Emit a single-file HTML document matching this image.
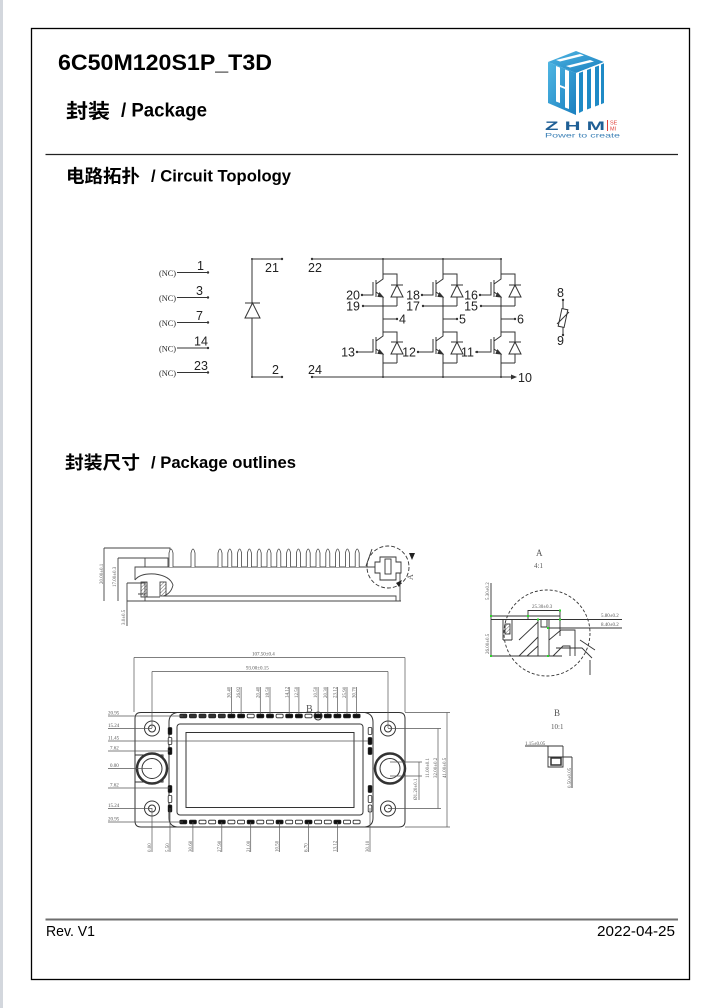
<!DOCTYPE html>
<html><head><meta charset="utf-8">
<style>
html,body{margin:0;padding:0;background:#fff;}
svg{display:block;}
</style></head><body>
<svg width="716" height="1008" viewBox="0 0 716 1008" xmlns="http://www.w3.org/2000/svg">
<defs>
<linearGradient id="bl" x1="0" y1="0" x2="1" y2="1">
<stop offset="0" stop-color="#4fb6e3"/><stop offset="1" stop-color="#1a7fbf"/>
</linearGradient>
<pattern id="hatch" width="2.5" height="2.5" patternUnits="userSpaceOnUse" patternTransform="rotate(45)">
<line x1="0" y1="0" x2="0" y2="2.5" stroke="#444" stroke-width="0.8"/>
</pattern>
</defs>
<rect x="0" y="0" width="716" height="1008" fill="#fff"/>
<rect x="0" y="0" width="3" height="1008" fill="#d3d7dd"/>
<rect x="31.5" y="28.5" width="658" height="951" fill="none" stroke="#000" stroke-width="1.3"/>

<!-- headings -->
<g fill="#000" font-weight="bold">
<text x="58" y="70" font-family="'Liberation Sans', sans-serif" font-size="22" textLength="214" lengthAdjust="spacingAndGlyphs">6C50M120S1P_T3D</text>
<text x="66" y="118" font-family="'Noto Sans CJK SC', sans-serif" font-size="20" textLength="44" lengthAdjust="spacingAndGlyphs">封装</text>
<text x="121" y="116.5" font-family="'Liberation Sans', sans-serif" font-size="19" textLength="86" lengthAdjust="spacingAndGlyphs">/ Package</text>
<text x="66" y="182.5" font-family="'Noto Sans CJK SC', sans-serif" font-size="18" textLength="74" lengthAdjust="spacingAndGlyphs">电路拓扑</text>
<text x="151" y="181.5" font-family="'Liberation Sans', sans-serif" font-size="17" textLength="140" lengthAdjust="spacingAndGlyphs">/ Circuit Topology</text>
<text x="65" y="469" font-family="'Noto Sans CJK SC', sans-serif" font-size="18" textLength="75" lengthAdjust="spacingAndGlyphs">封装尺寸</text>
<text x="151" y="468" font-family="'Liberation Sans', sans-serif" font-size="17" textLength="145" lengthAdjust="spacingAndGlyphs">/ Package outlines</text>
</g>
<line x1="45.5" y1="154.5" x2="678" y2="154.5" stroke="#222" stroke-width="1.3"/>

<!-- logo -->
<g>
<polygon points="548,62 576,51 604,62 576,73" fill="url(#bl)"/>
<polygon points="548,62 576,73 576,115 548,103" fill="url(#bl)"/>
<polygon points="576,73 604,62 604,103 576,115" fill="#fff"/>
<path d="M579 73 L583 71.5 V111 L579 113Z M587 70 L591 68.5 V108 L587 109.5Z M595 67 L599 65.5 V105 L595 106.5Z M601 64.5 L604 63.3 V103 L601 104.2Z" fill="#1f8ac6"/>
<path d="M556 66 L560 67.6 V103 L556 101.5Z M565 69.5 L569 71 V109 L565 107.5Z" fill="#fff"/>
<path d="M560 85 L565 87 V89 L560 87Z" fill="#fff"/>
<path d="M556 60 L580 54 L584 55.5 L560 61.5Z M566 66 L590 60 L594 61.5 L570 67.5Z" fill="#fff"/>
<text x="545" y="130" font-family="'Liberation Sans', sans-serif" font-weight="bold" font-size="12" fill="#1f5f95" textLength="60" lengthAdjust="spacingAndGlyphs">Z H M</text>
<line x1="607.5" y1="120" x2="607.5" y2="131" stroke="#e0403a" stroke-width="1"/>
<text x="610" y="124.5" font-family="'Liberation Sans', sans-serif" font-size="5.5" fill="#e0403a">SE</text>
<text x="610" y="130.5" font-family="'Liberation Sans', sans-serif" font-size="5.5" fill="#e0403a">MI</text>
<text x="545" y="137.5" font-family="'Liberation Sans', sans-serif" font-size="6" fill="#3a7fb5" textLength="75" lengthAdjust="spacingAndGlyphs">Power to create</text>
</g>

<!-- circuit topology -->
<g stroke="#333" stroke-width="1" fill="none">
<path d="M177 272.5H208 M177 297.5H208 M177 322.5H208 M177 348H208 M177 372.5H208"/>
<path d="M252 259V377 M252 259H282 M252 377H282"/>
<path d="M245 303H260"/>
<path d="M252.5 303L245 318H260Z" fill="#fff"/>
<path d="M312 259H501 M312 377H516"/>
<!-- NTC -->
<path d="M563 300V309 M563 327V335"/>
<rect x="560" y="309" width="6" height="18" transform="rotate(12 563 318)"/>
<path d="M557 324 L569 312"/>
</g>
<g id="leg" stroke="#333" stroke-width="1" fill="none">
<path d="M383 259V279 L376 284 M376 280V297 M376 292L383 297V319 M383 274H397V285 M397 297V306 M363 306H397 M373 282V295H362 M383 319H397"/>
<path d="M391 285H403"/>
<path d="M397 285L391 297H403Z"/>
<path d="M383 319V336 L376 341 M376 337V354 M376 349L383 354V377 M383 332H397V342 M397 354V363 M383 363H397 M373 339V352H357"/>
<path d="M391 342H403"/>
<path d="M397 342L391 354H403Z"/>
<path d="M379.5 293 L383 297 L378 296.5Z M379.5 350 L383 354 L378 353.5Z" fill="#333"/>
</g>
<use href="#leg" x="60"/>
<use href="#leg" x="118"/>
<g fill="#333">
<circle cx="208" cy="272.5" r="1.2"/><circle cx="208" cy="297.5" r="1.2"/><circle cx="208" cy="322.5" r="1.2"/><circle cx="208" cy="348" r="1.2"/><circle cx="208" cy="372.5" r="1.2"/>
<circle cx="282" cy="259" r="1.2"/><circle cx="282" cy="377" r="1.2"/><circle cx="252" cy="259" r="1"/><circle cx="252" cy="377" r="1"/>
<circle cx="312" cy="259" r="1.2"/><circle cx="312" cy="377" r="1.2"/><path d="M511 374.5 L517 377 L511 379.5Z"/>
<circle cx="383" cy="259" r="1"/><circle cx="443" cy="259" r="1"/><circle cx="501" cy="259" r="1"/>
<circle cx="383" cy="377" r="1"/><circle cx="443" cy="377" r="1"/><circle cx="501" cy="377" r="1"/>
<circle cx="362" cy="295" r="1.2"/><circle cx="363" cy="306" r="1.2"/><circle cx="357" cy="352" r="1.2"/><circle cx="397" cy="319" r="1.2"/>
<circle cx="422" cy="295" r="1.2"/><circle cx="423" cy="306" r="1.2"/><circle cx="418" cy="352" r="1.2"/><circle cx="457" cy="319" r="1.2"/>
<circle cx="480" cy="295" r="1.2"/><circle cx="481" cy="306" r="1.2"/><circle cx="477" cy="352" r="1.2"/><circle cx="515" cy="319" r="1.2"/>
<circle cx="563" cy="300" r="1.2"/><circle cx="563" cy="335" r="1.2"/>
</g>
<g font-family="'Liberation Sans', sans-serif" font-size="12.5" fill="#222">
<text x="159" y="276" font-family="'Liberation Serif', serif" font-size="8" textLength="17" lengthAdjust="spacingAndGlyphs">(NC)</text>
<text x="159" y="301" font-family="'Liberation Serif', serif" font-size="8" textLength="17" lengthAdjust="spacingAndGlyphs">(NC)</text>
<text x="159" y="326" font-family="'Liberation Serif', serif" font-size="8" textLength="17" lengthAdjust="spacingAndGlyphs">(NC)</text>
<text x="159" y="351.5" font-family="'Liberation Serif', serif" font-size="8" textLength="17" lengthAdjust="spacingAndGlyphs">(NC)</text>
<text x="159" y="376" font-family="'Liberation Serif', serif" font-size="8" textLength="17" lengthAdjust="spacingAndGlyphs">(NC)</text>
<text x="197" y="270">1</text>
<text x="196" y="295">3</text>
<text x="196" y="320">7</text>
<text x="194" y="345.5">14</text>
<text x="194" y="370">23</text>
<text x="265" y="272">21</text>
<text x="272" y="374">2</text>
<text x="308" y="272">22</text>
<text x="308" y="374">24</text>
<text x="518" y="382">10</text>
<g text-anchor="end">
<text x="360" y="299.5">20</text><text x="360" y="310.5">19</text><text x="355" y="356.5">13</text>
<text x="420" y="299.5">18</text><text x="420" y="310.5">17</text><text x="416" y="356.5">12</text>
<text x="478" y="299.5">16</text><text x="478" y="310.5">15</text><text x="474" y="356.5">11</text>
</g>
<text x="399" y="323.5">4</text>
<text x="459" y="323.5">5</text>
<text x="517" y="323.5">6</text>
<text x="557" y="297">8</text>
<text x="557" y="345">9</text>
</g>

<!-- side view -->
<g stroke="#444" stroke-width="0.9" fill="none">
<path d="M104 548H170V567 M104 548V601 M118 558H145V567 M118 558V601 M145 558H168V567"/>
<path d="M135 580V567H400V601 M163 596H396V601 M127 601H401 M127 583V601 M127 583H145V601 M138 594H145"/>
<path d="M135 580 Q140 573 155 574 Q170 576 173 585 Q171 594 163 596"/>
<rect x="141" y="582" width="6" height="15" fill="url(#hatch)"/>
<rect x="160" y="582" width="6" height="14" fill="url(#hatch)"/>
<path d="M147 582V597H160"/>
<path d="M127 601V626"/>
</g>
<g stroke="#444" stroke-width="0.8" fill="#fff">
<path d="M169 567V553Q171 545 173 553V567"/>
<path d="M191 567V553Q193 545 195 553V567"/>
<path d="M218 567V553Q220 545 222 553V567"/>
<path d="M227.8 567V553Q229.8 545 231.8 553V567"/>
<path d="M237.6 567V553Q239.6 545 241.6 553V567"/>
<path d="M247.4 567V553Q249.4 545 251.4 553V567"/>
<path d="M257.2 567V553Q259.2 545 261.2 553V567"/>
<path d="M267 567V553Q269 545 271 553V567"/>
<path d="M276.8 567V553Q278.8 545 280.8 553V567"/>
<path d="M286.6 567V553Q288.6 545 290.6 553V567"/>
<path d="M296.4 567V553Q298.4 545 300.4 553V567"/>
<path d="M306.2 567V553Q308.2 545 310.2 553V567"/>
<path d="M316 567V553Q318 545 320 553V567"/>
<path d="M325.8 567V553Q327.8 545 329.8 553V567"/>
<path d="M335.6 567V553Q337.6 545 339.6 553V567"/>
<path d="M345.4 567V553Q347.4 545 349.4 553V567"/>
<path d="M355.2 567V553Q357.2 545 359.2 553V567"/>
</g>
<g stroke="#333" stroke-width="0.9" fill="none">
<path d="M366 566 L372 549"/>
<circle cx="388" cy="567" r="21" stroke-dasharray="4 2"/>
<path d="M375 567V562H380V557H396V562H401V573H396V580H380V573H375Z" fill="#fff"/>
<rect x="385" y="559" width="6" height="15"/>
</g>
<path d="M409 553 L415 553 L412 560Z M396 583 L402 580 L399 587Z" fill="#222"/>
<g font-family="'Liberation Serif', serif" font-size="5" fill="#555">
<text transform="translate(103,584) rotate(-90)">20.00±0.1</text>
<text transform="translate(116,587) rotate(-90)">17.00±0.3</text>
<text transform="translate(125,625) rotate(-90)">3.0±0.5</text>
<text transform="translate(413,580) rotate(-90)" font-size="8">A</text>
</g>

<!-- top view -->
<g stroke="#333" stroke-width="1" fill="none">
<path d="M141 712.5H399Q405 712.5 405 718.5V821Q405 827 399 827H141Q135 827 135 821V718.5Q135 712.5 141 712.5Z"/>
<path d="M177 712.5Q169 714 169 722V818Q169 826 177 827 M365 712.5Q373 714 373 722V818Q373 826 365 827"/>
<rect x="177" y="724" width="186" height="91" rx="3"/>
<rect x="186" y="732.5" width="168" height="75"/>
<path d="M135 755H163V782H135"/>
<circle cx="152" cy="728.5" r="7.5"/><circle cx="152" cy="728.5" r="3.5"/>
<circle cx="152" cy="808.5" r="7.5"/><circle cx="152" cy="808.5" r="3.5"/>
<circle cx="388" cy="728.5" r="7.5"/><circle cx="388" cy="728.5" r="3.5"/>
<circle cx="388" cy="808.5" r="7.5"/><circle cx="388" cy="808.5" r="3.5"/>
<circle cx="152" cy="768.5" r="15" stroke-width="2.5" fill="#fff"/><circle cx="152" cy="768.5" r="10"/>
<circle cx="390" cy="768.5" r="15" stroke-width="2.5" fill="#fff"/><circle cx="390" cy="768.5" r="10"/>
<circle cx="318.1" cy="716" r="4"/>
</g>
<g stroke="#222" stroke-width="0.8">
<!-- top pads -->
<rect x="179.8" y="714.2" width="7" height="3.6" rx="1" fill="#333"/>
<rect x="189.4" y="714.2" width="7" height="3.6" rx="1" fill="#333"/>
<rect x="199" y="714.2" width="7" height="3.6" rx="1" fill="#333"/>
<rect x="208.7" y="714.2" width="7" height="3.6" rx="1" fill="#333"/>
<rect x="218.3" y="714.2" width="7" height="3.6" rx="1" fill="#333"/>
<rect x="227.9" y="714.2" width="7" height="3.6" rx="1" fill="#111"/>
<rect x="237.6" y="714.2" width="7" height="3.6" rx="1" fill="#111"/>
<rect x="247.2" y="714.2" width="7" height="3.6" rx="1" fill="#fff"/>
<rect x="256.8" y="714.2" width="7" height="3.6" rx="1" fill="#111"/>
<rect x="266.5" y="714.2" width="7" height="3.6" rx="1" fill="#111"/>
<rect x="276.1" y="714.2" width="7" height="3.6" rx="1" fill="#fff"/>
<rect x="285.7" y="714.2" width="7" height="3.6" rx="1" fill="#111"/>
<rect x="295.4" y="714.2" width="7" height="3.6" rx="1" fill="#111"/>
<rect x="305" y="714.2" width="7" height="3.6" rx="1" fill="#fff"/>
<rect x="314.6" y="714.2" width="7" height="3.6" rx="1" fill="#111"/>
<rect x="324.3" y="714.2" width="7" height="3.6" rx="1" fill="#111"/>
<rect x="333.9" y="714.2" width="7" height="3.6" rx="1" fill="#111"/>
<rect x="343.5" y="714.2" width="7" height="3.6" rx="1" fill="#111"/>
<rect x="353.1" y="714.2" width="7" height="3.6" rx="1" fill="#111"/>
<!-- bottom pads -->
<rect x="179.8" y="820.2" width="7" height="3.6" rx="1" fill="#111"/>
<rect x="189.4" y="820.2" width="7" height="3.6" rx="1" fill="#111"/>
<rect x="199" y="820.2" width="7" height="3.6" rx="1" fill="#fff"/>
<rect x="208.7" y="820.2" width="7" height="3.6" rx="1" fill="#fff"/>
<rect x="218.3" y="820.2" width="7" height="3.6" rx="1" fill="#111"/>
<rect x="227.9" y="820.2" width="7" height="3.6" rx="1" fill="#fff"/>
<rect x="237.6" y="820.2" width="7" height="3.6" rx="1" fill="#fff"/>
<rect x="247.2" y="820.2" width="7" height="3.6" rx="1" fill="#111"/>
<rect x="256.8" y="820.2" width="7" height="3.6" rx="1" fill="#fff"/>
<rect x="266.5" y="820.2" width="7" height="3.6" rx="1" fill="#fff"/>
<rect x="276.1" y="820.2" width="7" height="3.6" rx="1" fill="#111"/>
<rect x="285.7" y="820.2" width="7" height="3.6" rx="1" fill="#fff"/>
<rect x="295.4" y="820.2" width="7" height="3.6" rx="1" fill="#fff"/>
<rect x="305" y="820.2" width="7" height="3.6" rx="1" fill="#111"/>
<rect x="314.6" y="820.2" width="7" height="3.6" rx="1" fill="#fff"/>
<rect x="324.3" y="820.2" width="7" height="3.6" rx="1" fill="#fff"/>
<rect x="333.9" y="820.2" width="7" height="3.6" rx="1" fill="#111"/>
<rect x="343.5" y="820.2" width="7" height="3.6" rx="1" fill="#fff"/>
<rect x="353.1" y="820.2" width="7" height="3.6" rx="1" fill="#fff"/>
<!-- side pads -->
<rect x="168.2" y="727.5" width="3.6" height="7" rx="1" fill="#111"/>
<rect x="168.2" y="737.5" width="3.6" height="7" rx="1" fill="#fff"/>
<rect x="168.2" y="747.5" width="3.6" height="7" rx="1" fill="#111"/>
<rect x="168.2" y="785.5" width="3.6" height="7" rx="1" fill="#111"/>
<rect x="168.2" y="795.5" width="3.6" height="7" rx="1" fill="#fff"/>
<rect x="168.2" y="805" width="3.6" height="7" rx="1" fill="#111"/>
<rect x="368.2" y="727.5" width="3.6" height="7" rx="1" fill="#fff"/>
<rect x="368.2" y="737.5" width="3.6" height="7" rx="1" fill="#111"/>
<rect x="368.2" y="747.5" width="3.6" height="7" rx="1" fill="#111"/>
<rect x="368.2" y="785.5" width="3.6" height="7" rx="1" fill="#111"/>
<rect x="368.2" y="795.5" width="3.6" height="7" rx="1" fill="#fff"/>
<rect x="368.2" y="805" width="3.6" height="7" rx="1" fill="#fff"/>
</g>
<!-- dimension lines -->
<g stroke="#555" stroke-width="0.7" fill="none">
<path d="M134 657.5H405 M134 657.5V712 M405 657.5V712"/>
<path d="M152 671.5H388 M152 671.5V728 M388 671.5V728"/>
<path d="M231.4 687V714 M241.1 687V714 M260.3 687V714 M270 687V714 M289.2 687V714 M298.9 687V714 M318.1 687V714 M327.8 687V714 M337.4 687V714 M347 687V714 M356.6 687V714"/>
<path d="M108 716H183 M108 728.5H152 M108 741H368 M108 751H170 M108 768.5H152 M108 788H170 M108 808.5H152 M108 822H183"/>
<path d="M152 808V852 M170 808V852 M192.9 822V852 M221.8 822V852 M250.7 822V852 M279.6 822V852 M308.5 822V852 M337.4 822V852 M370 808V852"/>
<path d="M405 712.5H450 M405 827H450 M447 712.5V827 M388 728.5H441 M388 808.5H441 M438 728.5V808.5 M390 762H422 M390 776H422 M419 762V800"/>
</g>
<g font-family="'Liberation Serif', serif" font-size="5" fill="#555">
<text x="252" y="655.5">107.50±0.4</text>
<text x="246" y="669.5">93.00±0.15</text>
<text x="108" y="714.5">20.95</text>
<text x="108" y="727">15.24</text>
<text x="108" y="739.5">11.45</text>
<text x="110" y="749.5">7.62</text>
<text x="110" y="767">0.00</text>
<text x="110" y="786.5">7.62</text>
<text x="108" y="807">15.24</text>
<text x="108" y="820.5">20.95</text>
<g>
<text transform="translate(230.5,698) rotate(-90)">30.40</text>
<text transform="translate(240.2,698) rotate(-90)">26.82</text>
<text transform="translate(259.4,698) rotate(-90)">20.40</text>
<text transform="translate(269.1,698) rotate(-90)">18.50</text>
<text transform="translate(288.3,698) rotate(-90)">14.12</text>
<text transform="translate(298,698) rotate(-90)">12.50</text>
<text transform="translate(317.2,698) rotate(-90)">10.50</text>
<text transform="translate(326.9,698) rotate(-90)">20.30</text>
<text transform="translate(336.5,698) rotate(-90)">23.12</text>
<text transform="translate(346.1,698) rotate(-90)">25.90</text>
<text transform="translate(355.7,698) rotate(-90)">30.70</text>
</g>
<g>
<text transform="translate(151,852) rotate(-90)">0.00</text>
<text transform="translate(169,852) rotate(-90)">5.50</text>
<text transform="translate(192,852) rotate(-90)">30.60</text>
<text transform="translate(220.9,852) rotate(-90)">27.90</text>
<text transform="translate(249.8,852) rotate(-90)">21.00</text>
<text transform="translate(278.7,852) rotate(-90)">10.50</text>
<text transform="translate(307.6,852) rotate(-90)">6.70</text>
<text transform="translate(336.5,852) rotate(-90)">13.12</text>
<text transform="translate(369,852) rotate(-90)">30.10</text>
</g>
<text transform="translate(429,778) rotate(-90)">11.00±0.1</text>
<text transform="translate(437,778) rotate(-90)">32.00±0.2</text>
<text transform="translate(446,778) rotate(-90)">41.00±0.5</text>
<text transform="translate(417,800) rotate(-90)">Ø1.20±0.1</text>
<text x="306" y="712" font-size="10">B</text>
</g>

<!-- detail A -->
<g font-family="'Liberation Serif', serif" fill="#555">
<text x="536" y="556" font-size="9">A</text>
<text x="534" y="568" font-size="7">4:1</text>
<text x="532" y="608" font-size="5">25.30±0.3</text>
<text x="601" y="617" font-size="5">5.80±0.2</text>
<text x="601" y="626" font-size="5">8.40±0.2</text>
<text transform="translate(489,600) rotate(-90)" font-size="5">5.30±0.2</text>
<text transform="translate(489,654) rotate(-90)" font-size="5">26.00±0.5</text>
</g>
<g stroke="#333" stroke-width="0.9" fill="none">
<circle cx="547" cy="633" r="43" stroke-dasharray="3 2"/>
<path d="M491 583V657 M491 616H560 M491 619.5H622 M548 628H622 M491 656H562"/>
<path d="M528 619V610.5H560V636"/>
<path d="M503 619V640 M512 619V640 M503 640H512"/>
<rect x="505" y="624" width="5" height="10" fill="url(#hatch)"/>
<path d="M538 619V656 M549 619V656 M541 620V627H547V620"/>
<path d="M519 640 L538 622 M519 656 L538 637 M527 656 L538 646"/>
<path d="M549 640 L561 630H575V656 M553 656 L563 646H570V656"/>
<path d="M556 648H582 L592 658 M580 640 L595 650 M590 660 L590 675"/>
</g>
<g fill="#2bd42b">
<rect x="490" y="615" width="2" height="2"/><rect x="527" y="615" width="2" height="2"/><rect x="559" y="609.5" width="2" height="2"/>
<rect x="559" y="618.5" width="2" height="2"/><rect x="547" y="627" width="2" height="2"/><rect x="547" y="655" width="2" height="2"/>
<rect x="490" y="655" width="2" height="2"/><rect x="537" y="618.5" width="2" height="2"/>
</g>

<!-- detail B -->
<g font-family="'Liberation Serif', serif" fill="#555">
<text x="554" y="716" font-size="9">B</text>
<text x="551" y="729" font-size="7">10:1</text>
<text x="525" y="745" font-size="5">1.15±0.05</text>
<text transform="translate(571,788) rotate(-90)" font-size="5">0.50±0.05</text>
</g>
<g stroke="#333" stroke-width="0.9" fill="none">
<path d="M525 746H563 M548 746V767H563V746 M548 757H572 M572 757V788"/>
<rect x="551" y="758" width="10" height="7" stroke-width="1.5"/>
</g>

<!-- footer -->
<line x1="45.5" y1="919.5" x2="678" y2="919.5" stroke="#6e6e6e" stroke-width="2"/>
<text x="46" y="936" font-family="'Liberation Sans', sans-serif" font-size="15" fill="#000" textLength="49" lengthAdjust="spacingAndGlyphs">Rev. V1</text>
<text x="597" y="936" font-family="'Liberation Sans', sans-serif" font-size="15" fill="#000" textLength="78" lengthAdjust="spacingAndGlyphs">2022-04-25</text>
</svg>
</body></html>
